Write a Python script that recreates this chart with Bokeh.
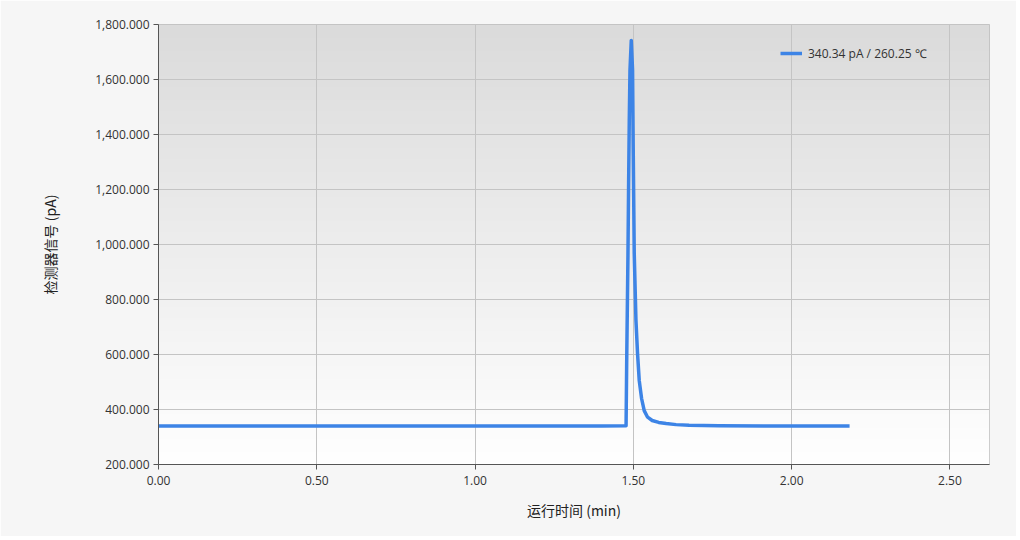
import numpy as np
from bokeh.plotting import figure
from bokeh.models import NumeralTickFormatter, FixedTicker, Range1d, Legend, LegendItem
from bokeh.embed import file_html
from bokeh.resources import INLINE

# Data
time_min = [0.00, 0.30, 0.60, 0.90, 1.20, 1.40, 1.4770, 1.4790, 1.4830, 1.4849, 1.4871,
            1.4893, 1.4934, 1.4975, 1.4997, 1.5028, 1.5082, 1.5132, 1.5186, 1.5260,
            1.5343, 1.5450, 1.5595, 1.5800, 1.6036, 1.635, 1.676, 1.77, 1.95, 2.10, 2.183]
signal_pA = [340, 340, 340, 340, 340, 340, 341, 578, 967, 1207, 1451,
             1633, 1742, 1633, 1331, 967, 724, 604, 505, 440,
             396, 372, 360, 353, 349, 345, 343, 341, 340, 340, 340]
series_label = "340.34 pA / 260.25 ℃"
x_ticks = [0.0, 0.5, 1.0, 1.5, 2.0, 2.5]
y_ticks = [200, 400, 600, 800, 1000, 1200, 1400, 1600, 1800]
x_label = "运行时间 (min)"
y_label = "检测器信号 (pA)"

X0, X1, Y0, Y1 = 0.0, 2.625, 200, 1800

p = figure(width=1016, height=536, output_backend="svg", toolbar_location=None,
           x_range=Range1d(X0, X1), y_range=Range1d(Y0, Y1),
           min_border_left=158, min_border_right=27, min_border_top=24, min_border_bottom=72)
p.background_fill_color = "#ffffff"
p.border_fill_color = "#f6f6f6"
p.outline_line_color = "#bdbdbd"

# vertical gradient background of the plot area
n = 200
t = np.linspace(0, 1, n)  # 0 bottom -> 1 top
g = (255 - 36 * t).astype(np.uint32)
img = np.empty((n, 1), dtype=np.uint32)
view = img.view(dtype=np.uint8).reshape((n, 1, 4))
view[:, 0, 0] = g
view[:, 0, 1] = g
view[:, 0, 2] = g
view[:, 0, 3] = 255
r_img = p.image_rgba(image=[img], x=X0, y=Y0, dw=X1 - X0, dh=Y1 - Y0)
r_img.level = "image"

r = p.line(time_min, signal_pA, line_color="#3d84e6", line_width=3.5, line_join="round")

p.xgrid.grid_line_color = "#c4c4c4"
p.ygrid.grid_line_color = "#c4c4c4"
p.xgrid.ticker = FixedTicker(ticks=x_ticks)
p.ygrid.ticker = FixedTicker(ticks=y_ticks)

p.xaxis.ticker = FixedTicker(ticks=x_ticks)
p.yaxis.ticker = FixedTicker(ticks=y_ticks)
p.xaxis.formatter = NumeralTickFormatter(format="0.00")
p.yaxis.formatter = NumeralTickFormatter(format="0,0.000")
for ax in (p.xaxis[0], p.yaxis[0]):
    ax.major_label_text_font = "Open Sans"
    ax.major_label_text_font_size = "12px"
    ax.major_label_text_color = "#333333"
    ax.axis_line_color = "#555555"
    ax.major_tick_line_color = "#555555"
    ax.major_tick_out = 5
    ax.major_tick_in = 0
    ax.minor_tick_line_color = None
    ax.axis_label_text_font = "Noto Sans CJK SC"
    ax.axis_label_text_font_style = "normal"
    ax.axis_label_text_font_size = "14px"
    ax.axis_label_text_color = "#222222"
p.xaxis.axis_label = x_label
p.yaxis.axis_label = y_label
p.xaxis.major_label_standoff = 6
p.xaxis.axis_label_standoff = 12
p.yaxis.major_label_standoff = 4
p.yaxis.axis_label_standoff = 32

legend = Legend(items=[LegendItem(label=series_label, renderers=[r])],
                location=(622, 401), background_fill_alpha=0, border_line_color=None,
                label_text_font="Open Sans", label_text_font_size="12px",
                label_text_color="#333333", glyph_width=22, label_standoff=6,
                margin=0, padding=6)
p.add_layout(legend)

open("out.html", "w").write(file_html(p, INLINE))
